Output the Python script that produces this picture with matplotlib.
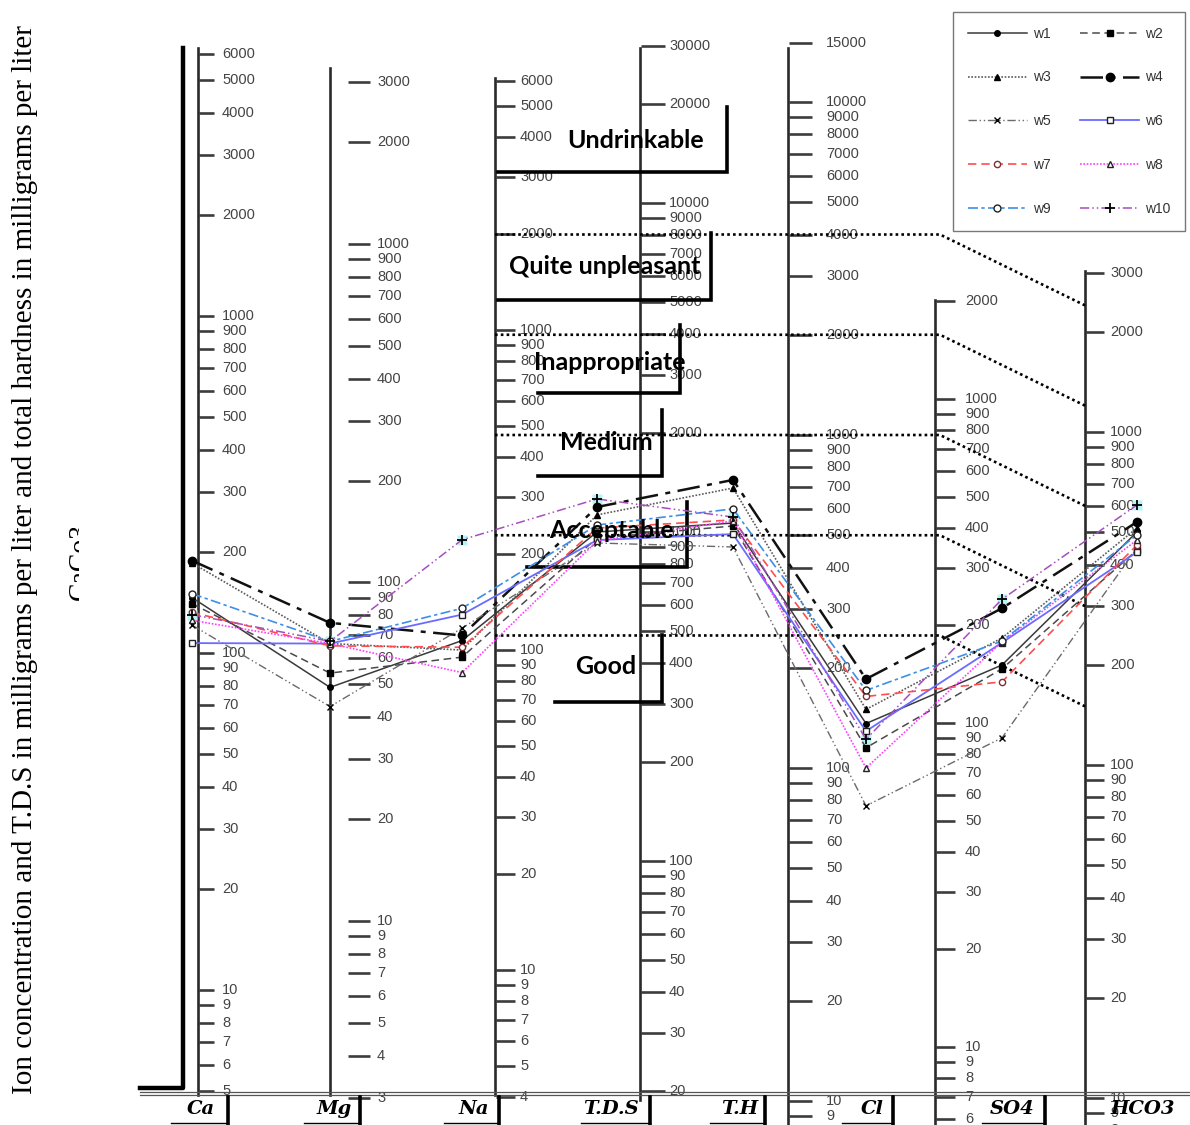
import numpy as np
import matplotlib.pyplot as plt
from matplotlib.lines import Line2D
from matplotlib.patches import Rectangle

# ---- data (mg/l) ----
columns = ["Ca", "Mg", "Na", "T.D.S", "T.H", "Cl", "SO4", "HCO3"]
wells = ["w1", "w2", "w3", "w4", "w5", "w6", "w7", "w8", "w9", "w10"]

ca = [146, 140, 185, 188, 121, 107, 132, 125, 150, 130]
mg = [49, 54, 66, 76, 43, 66, 65, 66, 67, 67]
na = [107, 95, 100, 111, 117, 129, 102, 85, 135, 221]
tds = [1000, 959, 1127, 1191, 926, 945, 1028, 939, 1050, 1260]
th = [544, 533, 693, 733, 461, 504, 556, 552, 600, 567]
cl = [136, 115, 150, 185, 77, 129, 164, 100, 171, 122]
so4 = [151, 147, 183, 226, 90, 177, 134, 178, 179, 241]
hco3 = [501, 442, 515, 537, 449, 436, 458, 474, 491, 604]

# drinking water classes, limits on the T.H scale and where they end on HCO3
classes = ["Undrinkable", "Quite unpleasant", "Inappropriate", "Medium", "Acceptable", "Good"]
limit_th = [4000, 2000, 1000, 500, 250]
limit_hco3 = [2400, 1200, 600, 300, 150]

# tick values of the scales
ticks_ca = [6000, 5000, 4000, 3000, 2000, 1000, 900, 800, 700, 600, 500, 400, 300, 200,
            100, 90, 80, 70, 60, 50, 40, 30, 20, 10, 9, 8, 7, 6, 5]
ticks_mg = [3000, 2000, 1000, 900, 800, 700, 600, 500, 400, 300, 200,
            100, 90, 80, 70, 60, 50, 40, 30, 20, 10, 9, 8, 7, 6, 5, 4, 3]
ticks_na = [6000, 5000, 4000, 3000, 2000, 1000, 900, 800, 700, 600, 500, 400, 300, 200,
            100, 90, 80, 70, 60, 50, 40, 30, 20, 10, 9, 8, 7, 6, 5, 4]
ticks_tds = [30000, 20000, 10000, 9000, 8000, 7000, 6000, 5000, 4000, 3000, 2000,
             1000, 900, 800, 700, 600, 500, 400, 300, 200, 100, 90, 80, 70, 60, 50, 40, 30, 20]
ticks_th = [15000, 10000, 9000, 8000, 7000, 6000, 5000, 4000, 3000, 2000,
            1000, 900, 800, 700, 600, 500, 400, 300, 200, 100, 90, 80, 70, 60, 50, 40, 30, 20, 10, 9]
ticks_so4 = [2000, 1000, 900, 800, 700, 600, 500, 400, 300, 200,
             100, 90, 80, 70, 60, 50, 40, 30, 20, 10, 9, 8, 7, 6]
ticks_hco3 = [3000, 2000, 1000, 900, 800, 700, 600, 500, 400, 300, 200,
              100, 90, 80, 70, 60, 50, 40, 30, 20, 10, 9, 8]

# ---- layout (pixels of a 1190x1125 figure) ----
W, H = 1190, 1125
scales = {
    "Ca":   dict(ticks=ticks_ca, line=198, t0=199, t1=214, lab=222, y1000=316, ppd=337, span=(48, 1095)),
    "Mg":   dict(ticks=ticks_mg, line=330, t0=348, t1=370, lab=377, y1000=244, ppd=338.5, span=(68, 1095)),
    "Na":   dict(ticks=ticks_na, line=495, t0=496, t1=515, lab=520, y1000=330, ppd=320, span=(78, 1095)),
    "TDS":  dict(ticks=ticks_tds, line=640, t0=641, t1=665, lab=669, y1000=532, ppd=329, span=(48, 1100)),
    "TH":   dict(ticks=ticks_th, line=788, t0=789, t1=812, lab=826, y1000=435, ppd=333, span=(48, 1125)),
    "SO4":  dict(ticks=ticks_so4, line=935, t0=936, t1=955, lab=965, y1000=399, ppd=324, span=(300, 1125)),
    "HCO3": dict(ticks=ticks_hco3, line=1085, t0=1086, t1=1104, lab=1110, y1000=432, ppd=333, span=(271, 1125)),
}
col_scale = ["Ca", "Mg", "Na", "TDS", "TH", "TH", "SO4", "HCO3"]
col_x = [192, 330, 462, 597, 733, 866, 1002, 1137]

fig = plt.figure(figsize=(W / 100, H / 100), dpi=100)
base = fig.add_axes([0, 0, 1, 1])
base.set_xlim(0, W)
base.set_ylim(H, 0)
base.axis("off")
base.set_zorder(5)

tick_col = "#3c3c3c"
sax = {}
for key, s in scales.items():
    ax = fig.add_axes([0, 0, 1, 1])
    ax.set_yscale("log")
    ax.set_xlim(0, W)
    # log axis anchored so that 1000 sits at y1000 px, ppd px per decade
    ax.set_ylim(10 ** (3 - (H - s["y1000"]) / s["ppd"]), 10 ** (3 + s["y1000"] / s["ppd"]))
    ax.axis("off")
    ax.hlines(s["ticks"], s["t0"], s["t1"], color=tick_col, lw=1.9)
    for v in s["ticks"]:
        ax.text(s["lab"], v, str(v), fontsize=10.5, color="#444444", va="center", ha="left",
                family="Liberation Sans")
    base.plot([s["line"], s["line"]], s["span"], color="#2a2a2a", lw=1.9, zorder=1)
    sax[key] = ax


def to_base(key, x, v):
    disp = sax[key].transData.transform((x, v))
    return base.transData.inverted().transform(disp)


# thick frame beside the Ca scale
base.plot([183, 183, 140], [48, 1088, 1088], color="k", lw=3.2, zorder=1)
# bottom double rule
base.plot([140, W], [1092, 1092], color="#555555", lw=0.9)
base.plot([140, W], [1095, 1095], color="#555555", lw=0.9)

# dotted class limits
for t, h in zip(limit_th, limit_hco3):
    pts = np.array([to_base("TH", 495, t), to_base("TH", 940, t), to_base("HCO3", 1085, h)])
    base.plot(pts[:, 0], pts[:, 1], color="k", lw=1.9, ls=(0, (1, 1.2)), zorder=2)

# class labels with their brackets
boxes = [(636, 141, 727, 107, 172, 498), (605, 266, 711, 233, 300, 498),
         (610, 363, 680, 325, 393, 538), (606, 443, 662, 410, 476, 538),
         (611, 531, 687, 502, 567, 527), (606, 667, 662, 635, 702, 555)]
for name, (tx, ty, rx, top, bot, left) in zip(classes, boxes):
    base.plot([rx, rx, left], [top, bot, bot], color="k", lw=2.6, zorder=3,
              solid_joinstyle="miter")
    base.text(tx, ty, name, fontsize=18, fontweight="bold", family="Lato",
              ha="center", va="center", color="k", zorder=8)

# wells
styles = [
    dict(color="#3a3a3a", ls="-", lw=1.1, marker="o", ms=4, mfc="k", mec="k"),
    dict(color="#4a4a4a", ls=(0, (5, 3)), lw=1.1, marker="s", ms=5, mfc="k", mec="k"),
    dict(color="#5a5a5a", ls=(0, (1, 1)), lw=1.2, marker="^", ms=5, mfc="k", mec="k"),
    dict(color="#111111", ls=(0, (9, 3, 2, 3)), lw=1.8, marker="o", ms=6, mfc="k", mec="k"),
    dict(color="#6a6a6a", ls=(0, (6, 2, 1, 2, 1, 2)), lw=1.0, marker="x", ms=5, mec="k"),
    dict(color="#6b6bff", ls="-", lw=1.3, marker="s", ms=5, mfc="white", mec="#222222"),
    dict(color="#ff4d4d", ls=(0, (5, 3)), lw=1.2, marker="o", ms=4.5, mfc="white", mec="#803030"),
    dict(color="#ff3dff", ls=(0, (1, 1)), lw=1.2, marker="^", ms=5, mfc="white", mec="#222222"),
    dict(color="#3d8fe6", ls=(0, (6, 2, 2, 2)), lw=1.2, marker="o", ms=5, mfc="white", mec="#222222"),
    dict(color="#a64dbf", ls=(0, (6, 2, 1, 2, 1, 2)), lw=1.1, marker="+", ms=7, mec="k", mew=1.3),
]
table = [ca, mg, na, tds, th, cl, so4, hco3]
for i, w in enumerate(wells):
    vals = [col[i] for col in table]
    pts = np.array([to_base(k, x, v) for k, x, v in zip(col_scale, col_x, vals)])
    if w == "w10":
        base.plot(pts[:, 0], pts[:, 1], ls="none", marker="s", ms=7, mfc="#b8f4f4",
                  mec="none", zorder=4)
    base.plot(pts[:, 0], pts[:, 1], zorder=5, **styles[i])

# legend, filled row by row
order = [0, 2, 4, 6, 8, 1, 3, 5, 7, 9]
handles = [Line2D([], [], **styles[i]) for i in order]
leg = base.legend(handles, [wells[i] for i in order], ncol=2, loc="upper right",
                  bbox_to_anchor=(1185, 12), bbox_transform=base.transData,
                  borderaxespad=0, fontsize=10, numpoints=1, handlelength=4.3,
                  handletextpad=0.4, columnspacing=2.1, labelspacing=2.15, borderpad=1.05,
                  fancybox=False, edgecolor="#777777", framealpha=1)
leg.get_frame().set_linewidth(1.0)
for t in leg.get_texts():
    t.set_color("#333333")
    t.set_family("Liberation Sans")
leg.set_zorder(10)

# column names at the bottom
names_x = [201, 334, 474, 611, 740, 872, 1012, 1143]
bars_x = [228, 360, 499, 650, 765, 893, 1045, None]
for name, cx, bx in zip(columns, names_x, bars_x):
    base.text(cx, 1109, name, fontsize=14, fontweight="bold", fontstyle="italic",
              family="DejaVu Serif", ha="center", va="center", color="k")
    if bx is not None:
        base.plot([bx, bx], [1097, 1125], color="k", lw=2.6)
        base.plot([cx - 30, bx], [1123, 1123], color="k", lw=1.0)

# vertical axis title
base.text(25, 560, "Ion concentration and T.D.S in milligrams per liter and total hardness "
          "in milligrams per liter", rotation=90, fontsize=21, family="Liberation Serif",
          ha="center", va="center", color="k")
cc = base.text(80, 562, "CaCo3", rotation=90, fontsize=20, family="Liberation Serif",
               ha="center", va="center", color="k", clip_on=True)
cc.set_clip_path(Rectangle((40, 400), 39, 300, transform=base.transData))

fig.savefig("out.png", dpi=100)
